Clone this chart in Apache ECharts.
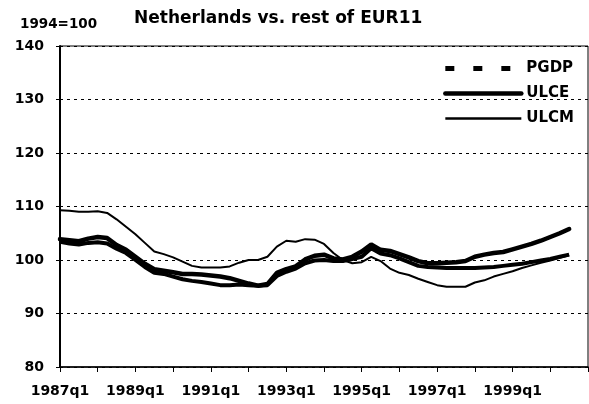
<!DOCTYPE html>
<html>
<head>
<meta charset="utf-8">
<script src="https://cdn.jsdelivr.net/npm/echarts@6/dist/echarts.min.js"></script>
<style>
  html, body { margin: 0; padding: 0; background: #fff; }
  #chart { width: 589px; height: 404px; }
</style>
</head>
<body>
<div id="chart"></div>
<script>
// quarters on the x axis (axis runs to 2001q1)
var quarters = [
  '1987q1','1987q2','1987q3','1987q4','1988q1','1988q2','1988q3','1988q4',
  '1989q1','1989q2','1989q3','1989q4','1990q1','1990q2','1990q3','1990q4',
  '1991q1','1991q2','1991q3','1991q4','1992q1','1992q2','1992q3','1992q4',
  '1993q1','1993q2','1993q3','1993q4','1994q1','1994q2','1994q3','1994q4',
  '1995q1','1995q2','1995q3','1995q4','1996q1','1996q2','1996q3','1996q4',
  '1997q1','1997q2','1997q3','1997q4','1998q1','1998q2','1998q3','1998q4',
  '1999q1','1999q2','1999q3','1999q4','2000q1','2000q2','2000q3','2000q4',
  '2001q1'
];
var shownLabels = ['1987q1','1989q1','1991q1','1993q1','1995q1','1997q1','1999q1'];

// 1994=100
var pgdp = [
  103.4,103.1,102.9,103.2,103.3,103.1,102.1,101.3,100.0,98.7,
  97.6,97.4,96.9,96.4,96.1,95.9,95.6,95.3,95.3,95.4,
  95.3,95.2,95.3,97.0,97.8,98.4,99.4,99.9,100.0,99.8,
  99.8,100.2,100.6,102.2,101.2,100.9,100.3,99.6,98.9,98.7,
  98.6,98.5,98.5,98.5,98.5,98.6,98.7,98.9,99.1,99.3,
  99.6,99.9,100.2,100.6,101.0
];
var ulce = [
  103.9,103.7,103.5,104.0,104.3,104.1,102.8,101.9,100.6,99.3,
  98.3,98.0,97.7,97.4,97.4,97.3,97.1,96.9,96.6,96.1,
  95.6,95.2,95.5,97.6,98.3,98.8,100.1,100.8,101.0,100.3,
  100.1,100.6,101.6,102.9,101.9,101.7,101.1,100.5,99.8,99.4,
  99.4,99.5,99.6,99.8,100.6,101.0,101.3,101.5,102.0,102.5,
  103.0,103.6,104.3,105.0,105.8
];
var ulcm = [
  109.3,109.2,109.0,109.0,109.1,108.8,107.6,106.2,104.8,103.2,
  101.6,101.1,100.5,99.7,98.9,98.6,98.6,98.6,98.8,99.5,
  100.0,100.0,100.6,102.5,103.6,103.4,103.9,103.8,103.0,101.3,
  100.0,99.4,99.6,100.6,99.8,98.4,97.6,97.2,96.5,95.9,
  95.3,95.0,95.0,95.0,95.8,96.2,96.9,97.4,97.9,98.5,
  99.0,99.5,99.9,100.4,100.9
];

var font = 'DejaVu Sans';
var chart = echarts.init(document.getElementById('chart'));
chart.setOption({
  animation: false,
  backgroundColor: '#fff',
  title: [
    {
      text: '1994=100',
      left: 15,
      top: 12,
      textStyle: { fontFamily: font, fontSize: 13.5, fontWeight: 'bold', color: '#000' }
    },
    {
      text: 'Netherlands vs. rest of EUR11',
      left: 129,
      top: 5,
      textStyle: { fontFamily: font, fontSize: 17, fontWeight: 'bold', color: '#000' }
    }
  ],
  legend: {
    orient: 'vertical',
    right: 10,
    top: 56,
    itemWidth: 76,
    itemHeight: 14,
    itemGap: 10,
    itemStyle: { opacity: 0 },
    textStyle: { fontFamily: font, fontSize: 15, fontWeight: 'bold', color: '#000' },
    data: [
      { name: 'PGDP', lineStyle: { type: [9, 19], width: 5, cap: 'butt' } },
      { name: 'ULCE', lineStyle: { width: 4.5 } },
      { name: 'ULCM', lineStyle: { width: 2.5 } }
    ]
  },
  grid: {
    left: 60,
    right: 1,
    top: 46,
    bottom: 37,
    show: true,
    borderColor: '#000',
    borderWidth: 1
  },
  xAxis: {
    type: 'category',
    data: quarters,
    boundaryGap: false,
    axisLine: { lineStyle: { color: '#000', width: 1.5 } },
    axisTick: {
      interval: function (i) { return i % 4 === 0; },
      length: 5,
      lineStyle: { color: '#000', width: 1 }
    },
    axisLabel: {
      interval: function (i, val) { return shownLabels.indexOf(val) >= 0; },
      margin: 17,
      fontFamily: font,
      fontSize: 14,
      fontWeight: 'bold',
      color: '#000'
    },
    splitLine: { show: false }
  },
  yAxis: {
    type: 'value',
    min: 80,
    max: 140,
    interval: 10,
    axisLine: { show: true, lineStyle: { color: '#000', width: 2 } },
    axisTick: { show: true, length: 4, lineStyle: { color: '#000' } },
    axisLabel: {
      margin: 16,
      fontFamily: font,
      fontSize: 14,
      fontWeight: 'bold',
      color: '#000'
    },
    splitLine: {
      show: true,
      lineStyle: { color: '#000', width: 1, type: [3, 4] }
    }
  },
  series: [
    {
      name: 'PGDP',
      type: 'line',
      data: pgdp,
      symbol: 'none',
      color: '#000',
      lineStyle: { color: '#000', width: 4 }
    },
    {
      name: 'ULCE',
      type: 'line',
      data: ulce,
      symbol: 'none',
      color: '#000',
      lineStyle: { color: '#000', width: 4.5, cap: 'round' }
    },
    {
      name: 'ULCM',
      type: 'line',
      data: ulcm,
      symbol: 'none',
      color: '#000',
      lineStyle: { color: '#000', width: 2 }
    }
  ]
});
</script>
</body>
</html>
